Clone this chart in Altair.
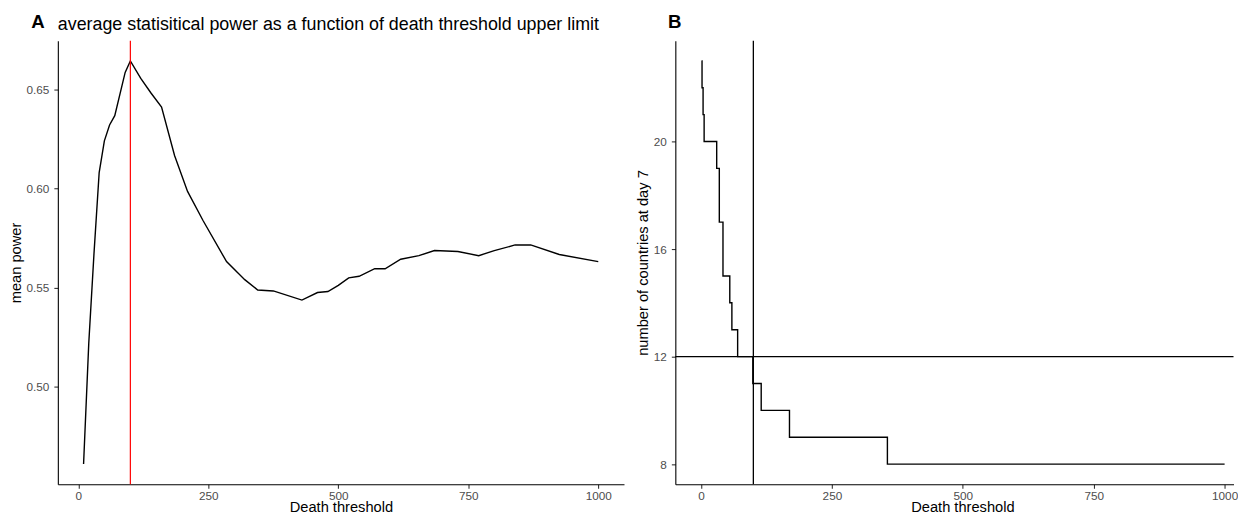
import altair as alt
import pandas as pd

# ---- data ----
power_threshold = [10, 20, 30, 40, 50, 60, 70, 90, 100, 120, 140, 160, 185, 210, 240,
                   285, 320, 345, 375, 430, 460, 480, 500, 520, 540, 570, 590, 620,
                   655, 685, 730, 770, 800, 840, 870, 925, 1000]
power_mean = [0.461, 0.522, 0.567, 0.608, 0.624, 0.632, 0.6367, 0.6585, 0.6643, 0.6555,
              0.648, 0.641, 0.6166, 0.5985, 0.5837, 0.5631, 0.554, 0.5488, 0.5483,
              0.5437, 0.5475, 0.548, 0.5511, 0.5549, 0.5557, 0.5595, 0.5595, 0.5643,
              0.5661, 0.5687, 0.5682, 0.5661, 0.5686, 0.5715, 0.5715, 0.5667, 0.5631]

step_threshold = [1, 2, 4, 6, 30, 35, 42, 55, 59, 70, 99, 115, 169, 356, 1000]
step_count = [23, 22, 21, 20, 19, 17, 15, 14, 13, 12, 11, 10, 9, 8, 8]

chosen_threshold = 100
chosen_count = 12

x_ticks = [0, 250, 500, 750, 1000]
power_ticks = [0.50, 0.55, 0.60, 0.65]
count_ticks = [8, 12, 16, 20]

title_a = "average statisitical power as a function of death threshold upper limit"
x_title = "Death threshold"
y_title_a = "mean power"
y_title_b = "number of countries at day 7"

FONT = "Liberation Sans"
PLOT_H = 445

one = pd.DataFrame({"k": [0]})

# ---- panel A ----
df_a = pd.DataFrame({"threshold": power_threshold, "power": power_mean})
x_a = alt.X("threshold:Q",
            scale=alt.Scale(domain=[-39.5, 1049.5], nice=False, zero=False),
            axis=alt.Axis(values=x_ticks, format="d", title=x_title))
y_a = alt.Y("power:Q",
            scale=alt.Scale(domain=[0.4508, 0.6745], nice=False, zero=False),
            axis=alt.Axis(values=power_ticks, format=".2f", title=y_title_a))

line_a = alt.Chart(df_a).mark_line(color="black", strokeWidth=1.4).encode(x=x_a, y=y_a)
rule_a = alt.Chart(one).mark_rule(color="#FF0000", strokeWidth=1.2).encode(
    x=alt.datum(chosen_threshold))
label_a = alt.Chart(one).mark_text(text="A", font=FONT, fontSize=18.7, fontWeight="bold",
                                   align="left", baseline="alphabetic", color="black").encode(
    x=alt.value(-26.7), y=alt.value(-12.7))
head_a = alt.Chart(one).mark_text(text=title_a, font=FONT, fontSize=17.9, align="left",
                                  baseline="alphabetic", color="black").encode(
    x=alt.value(0), y=alt.value(-10.3))

panel_a = alt.layer(line_a, rule_a, label_a, head_a).properties(width=568, height=PLOT_H)

# ---- panel B ----
df_b = pd.DataFrame({"threshold": step_threshold, "count": step_count})
x_b = alt.X("threshold:Q",
            scale=alt.Scale(domain=[-49, 1017], nice=False, zero=False),
            axis=alt.Axis(values=x_ticks, format="d", title=x_title, titleX=288))
y_b = alt.Y("count:Q",
            scale=alt.Scale(domain=[7.25, 23.75], nice=False, zero=False),
            axis=alt.Axis(values=count_ticks, title=y_title_b))

line_b = alt.Chart(df_b).mark_line(color="black", strokeWidth=1.4,
                                   interpolate="step-after").encode(x=x_b, y=y_b)
vrule_b = alt.Chart(one).mark_rule(color="black", strokeWidth=1.3).encode(
    x=alt.datum(chosen_threshold))
hrule_b = alt.Chart(one).mark_rule(color="black", strokeWidth=1.3).encode(
    y=alt.datum(chosen_count))
label_b = alt.Chart(one).mark_text(text="B", font=FONT, fontSize=18.7, fontWeight="bold",
                                   align="left", baseline="alphabetic", color="black").encode(
    x=alt.value(-7.3), y=alt.value(-12.7))

panel_b = alt.layer(line_b, vrule_b, hrule_b, label_b).properties(width=560, height=PLOT_H)

chart = alt.hconcat(panel_a, panel_b, spacing=11.5).properties(
    padding={"left": 0, "top": 4, "right": 0, "bottom": 0}
).configure_view(stroke=None).configure_axis(
    grid=False,
    domainColor="black", domainWidth=1.1,
    tickColor="#333333", tickWidth=1.1, tickSize=4,
    labelColor="#4D4D4D", labelFont=FONT, labelFontSize=11.8,
    titleColor="black", titleFont=FONT, titleFontSize=14.7, titleFontWeight="normal",
).configure_axisX(labelPadding=2, titlePadding=-2).configure_axisY(
    labelPadding=5, titlePadding=2.5)

chart.save("out.html", embed_options={"renderer": "svg", "actions": False})
